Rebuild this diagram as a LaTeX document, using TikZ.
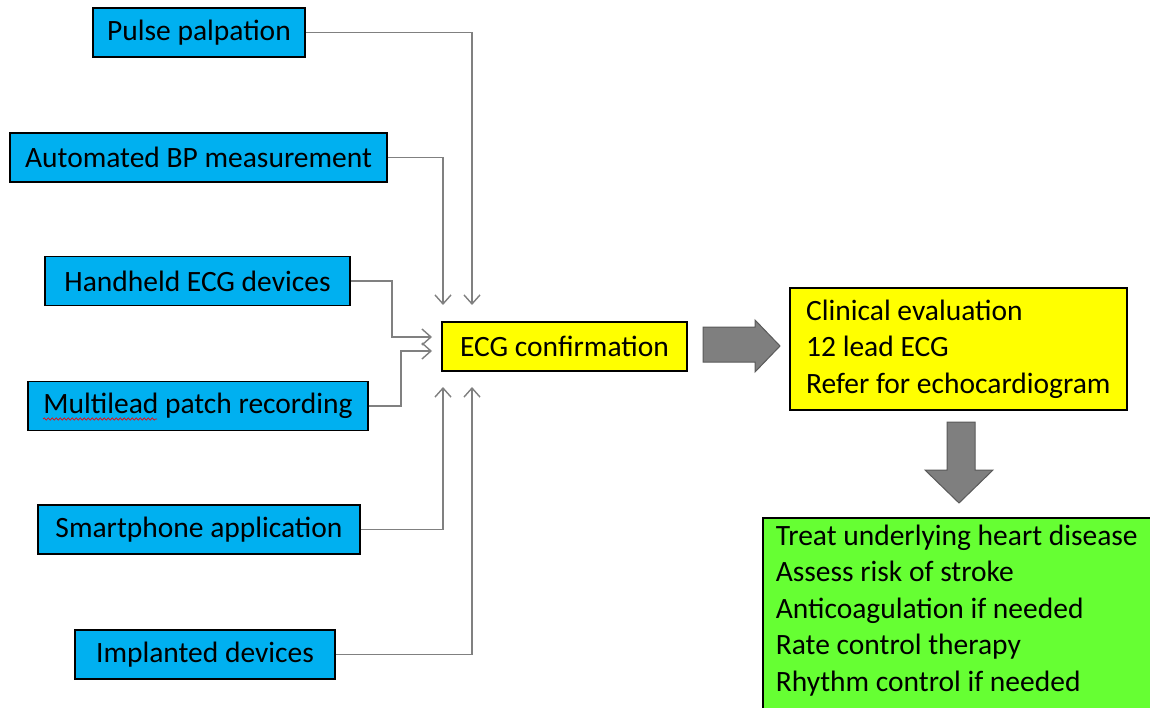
\documentclass[tikz,border=0pt]{standalone}
\usepackage{fontspec}
\setmainfont{Carlito}
\usetikzlibrary{arrows.meta,decorations.pathmorphing}
\definecolor{boxblue}{HTML}{00B0F0}
\definecolor{boxyellow}{HTML}{FFFF00}
\definecolor{boxgreen}{HTML}{66FF33}
\definecolor{conngray}{HTML}{808080}
\definecolor{fatgray}{HTML}{7F7F7F}
\definecolor{fatedge}{HTML}{5A5A5A}
\tikzset{
  bluebox/.style={draw=black, line width=1.6pt, fill=boxblue, inner sep=0pt, minimum height=49pt, font=\fontsize{29.5}{36}\selectfont},
  ybox/.style={draw=black, line width=1.6pt, fill=boxyellow, inner sep=0pt, font=\fontsize{29.5}{36}\selectfont},
  conn/.style={draw=conngray, line width=1.4pt, -{Straight Barb[length=9pt,width=16pt,line width=1.4pt]}},
  fatarrow/.style={fill=fatgray, draw=fatedge, line width=1pt},
  multibox/.style={draw=black, line width=1.6pt, align=left, font=\fontsize{29.5}{36.5}\selectfont}
}
\begin{document}
\begin{tikzpicture}[x=1pt,y=-1pt]
\useasboundingbox (0,0) rectangle (1150,708);
\fill[white] (0,0) rectangle (1150,708);
% source boxes
\node[bluebox, minimum width=212pt] (pp) at (199,32.5) {Pulse palpation};
\node[bluebox, minimum width=377pt] (bp) at (198.5,157.5) {Automated BP measurement};
\node[bluebox, minimum width=305pt] (hh) at (197.5,281) {Handheld ECG devices};
\node[bluebox, minimum width=340pt] (ml) at (198,406) {Multilead patch recording};
\node[bluebox, minimum width=322pt] (sp) at (199,529.5) {Smartphone application};
\node[bluebox, minimum width=260pt] (im) at (205,654.5) {Implanted devices};
% spell-check underline
\draw[red, line width=0.7pt, decorate, decoration={snake, amplitude=1.2pt, segment length=4pt}] (43,419) -- (157,419);
% ECG confirmation
\node[ybox, minimum width=245pt, minimum height=49pt] (ecg) at (564.5,346.5) {ECG confirmation};
% arrow end points
\coordinate (e1) at (472,305);
\coordinate (e2) at (443,305);
\coordinate (e3) at (432,337);
\coordinate (e4) at (432,351);
\coordinate (e5) at (443,387);
\coordinate (e6) at (472,387);
\draw[conn] (pp.east) -| (e1);
\draw[conn] (bp.east) -| (e2);
\draw[conn] (hh.east) -| (392,337) -- (e3);
\draw[conn] (ml.east) -| (401,351) -- (e4);
\draw[conn] (sp.east) -| (e5);
\draw[conn] (im.east) -| (e6);
% clinical box
\node[multibox, fill=boxyellow, inner xsep=15pt, inner ysep=0pt, minimum width=337pt, minimum height=122pt, anchor=west] (clin) at (789,349)
  {Clinical evaluation\\12 lead ECG\\Refer for echocardiogram};
% green box
\node[multibox, fill=boxgreen, inner xsep=13pt, inner ysep=7pt, anchor=north west] (treat) at (762,517)
  {Treat underlying heart disease\rule{20pt}{0pt}\\Assess risk of stroke\\Anticoagulation if needed\\Rate control therapy\\Rhythm control if needed\\\mbox{}};
% fat arrows
\draw[fatarrow] (703,327) -- (755,327) -- (755,320) -- (780,346) -- (755,372) -- (755,362) -- (703,362) -- cycle;
\draw[fatarrow] (947,422) -- (975,422) -- (975,470) -- (993,470) -- (959,503) -- (925,470) -- (947,470) -- cycle;
\end{tikzpicture}
\end{document}
